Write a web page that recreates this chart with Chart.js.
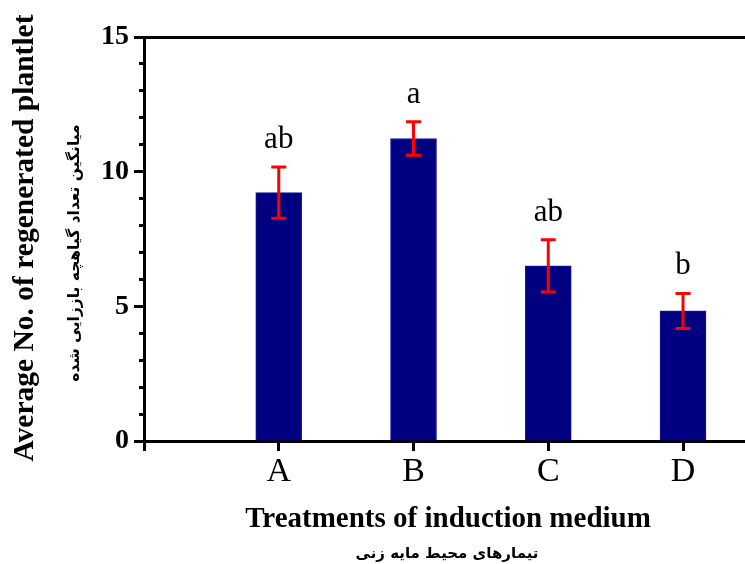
<!DOCTYPE html>
<html><head><meta charset="utf-8">
<script src="https://cdn.jsdelivr.net/npm/chart.js@4"></script>
<style>html,body{margin:0;padding:0;background:#fff;} #wrap{width:745px;height:564px;position:relative;}</style>
</head><body><div id="wrap"><canvas id="c" width="745" height="564"></canvas></div>
<script>
const categories = ['A', 'B', 'C', 'D'];
const positions = [1, 2, 3, 4];
const means = [9.22, 11.23, 6.50, 4.83];
const errors = [0.95, 0.62, 0.97, 0.65];
const letters = ['ab', 'a', 'ab', 'b'];
const yMajorTicks = [0, 5, 10, 15];
const xTitle = 'Treatments of induction medium';
const xTitleFa = 'تیمارهای محیط مایه زنی';
const yTitle = 'Average No. of regenerated plantlet';
const yTitleFa = 'میانگین تعداد گیاهچه باززایی شده';

const serif = "'Liberation Serif', 'Times New Roman', serif";
const fa = "'DejaVu Sans', sans-serif";

const overlay = {
  id: 'overlay',
  afterDatasetsDraw(chart) {
    const { ctx, scales: { x, y } } = chart;
    ctx.save();
    positions.forEach((p, i) => {
      const px = x.getPixelForValue(p);
      const top = y.getPixelForValue(means[i] + errors[i]);
      const bot = y.getPixelForValue(means[i] - errors[i]);
      ctx.strokeStyle = '#ff0000';
      ctx.lineWidth = 3;
      ctx.beginPath();
      ctx.moveTo(px, top); ctx.lineTo(px, bot);
      ctx.moveTo(px - 7.5, top); ctx.lineTo(px + 7.5, top);
      ctx.moveTo(px - 7.5, bot); ctx.lineTo(px + 7.5, bot);
      ctx.stroke();
      ctx.fillStyle = '#000';
      ctx.font = `31px ${serif}`;
      ctx.textAlign = 'center';
      ctx.textBaseline = 'alphabetic';
      ctx.fillText(letters[i], px, top - 19);
    });
    ctx.restore();
  },
  afterDraw(chart) {
    const { ctx } = chart;
    ctx.save();
    ctx.fillStyle = '#000';
    ctx.textAlign = 'center';
    ctx.textBaseline = 'alphabetic';
    ctx.font = `bold 29px ${serif}`;
    ctx.fillText(xTitle, 448, 527);
    ctx.font = `bold 15px ${fa}`;
    ctx.fillText(xTitleFa, 447, 558);
    ctx.textBaseline = 'middle';
    ctx.save();
    ctx.translate(25, 238);
    ctx.rotate(-Math.PI / 2);
    ctx.font = `bold 29.5px ${serif}`;
    ctx.fillText(yTitle, 0, 0);
    ctx.restore();
    ctx.save();
    ctx.translate(75, 253);
    ctx.rotate(-Math.PI / 2);
    ctx.font = `bold 15.5px ${fa}`;
    ctx.fillText(yTitleFa, 0, 0);
    ctx.restore();
    ctx.restore();
  }
};

new Chart(document.getElementById('c'), {
  type: 'bar',
  data: {
    datasets: [{
      data: positions.map((p, i) => ({ x: p, y: means[i] })),
      backgroundColor: '#000080',
      borderColor: '#1c1c9a',
      borderWidth: 1,
      barThickness: 46
    }]
  },
  options: {
    responsive: false,
    animation: false,
    devicePixelRatio: 1,
    layout: { padding: { top: 37, left: 0, right: 0, bottom: 0 } },
    plugins: { legend: { display: false }, tooltip: { enabled: false } },
    scales: {
      x: {
        type: 'linear', min: 0, max: 4.46, offset: false,
        afterBuildTicks: s => { s.ticks = [0, ...positions].map(v => ({ value: v })); },
        ticks: {
          callback: v => { const i = positions.indexOf(v); return i >= 0 ? categories[i] : ''; },
          font: { family: serif, size: 34 }, color: '#000', padding: 1, maxRotation: 0, autoSkip: false
        },
        grid: { display: true, drawOnChartArea: false, drawTicks: true, tickLength: 10, tickWidth: 3, tickColor: '#000', offset: false },
        border: { display: true, width: 3, color: '#000' },
        afterFit: s => { s.height = 123; }
      },
      xTop: {
        type: 'linear', position: 'top', min: 0, max: 4.46, offset: false,
        ticks: { display: false },
        grid: { display: true, drawOnChartArea: false, drawTicks: false },
        border: { display: true, width: 3, color: '#000' },
        afterFit: s => { s.height = 0; }
      },
      y: {
        position: 'left', min: 0, max: 15, weight: 1,
        afterBuildTicks: s => { s.ticks = yMajorTicks.map(v => ({ value: v })); },
        ticks: { font: { family: serif, size: 28, weight: 'bold' }, color: '#000', padding: 5 },
        grid: { drawOnChartArea: false, tickLength: 10, tickWidth: 3, tickColor: '#000' },
        border: { display: true, width: 3, color: '#000' },
        afterFit: s => { s.width = 144; }
      },
      yMinor: {
        position: 'left', min: 0, max: 15, weight: 0,
        ticks: { display: false, stepSize: 1 },
        grid: { drawOnChartArea: false, tickLength: 5, tickWidth: 3, tickColor: '#000' },
        border: { display: false },
        afterFit: s => { s.width = 0; }
      }
    }
  },
  plugins: [overlay]
});
</script>
</body></html>
